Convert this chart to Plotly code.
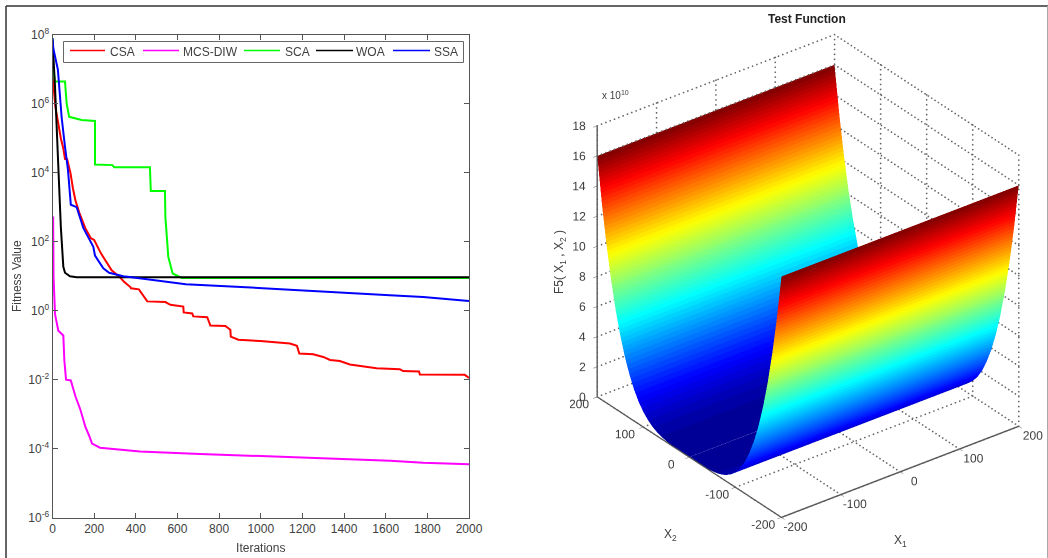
import numpy as np
import plotly.graph_objects as go

# ---- convergence curves: iteration and log10(fitness)
CSA_ITER = [0, 1, 8, 14, 25, 40, 52, 60, 70, 86, 98, 110, 128, 157, 184, 200, 232, 269, 284, 324, 345, 375, 377, 415, 455, 542, 566, 628, 630, 671, 676, 743, 758, 830, 854, 856, 892, 998, 1084, 1140, 1174, 1185, 1252, 1300, 1333, 1380, 1428, 1492, 1556, 1668, 1684, 1760, 1764, 1980, 1996, 2000]
CSA_LOG = [6.8, 6.7, 6.3, 5.9, 5.5, 5.0, 4.7, 4.4, 4.4, 4.0, 3.55, 3.2, 2.85, 2.4, 2.1, 2.05, 1.67, 1.3, 1.17, 0.97, 0.83, 0.68, 0.65, 0.62, 0.27, 0.25, 0.17, 0.12, -0.05, -0.08, -0.165, -0.19, -0.43, -0.44, -0.55, -0.75, -0.84, -0.88, -0.93, -0.95, -1.02, -1.24, -1.26, -1.34, -1.43, -1.46, -1.56, -1.61, -1.67, -1.7, -1.75, -1.76, -1.85, -1.86, -1.95, -1.95]
MCS_ITER = [0, 3, 5, 8, 12, 28, 52, 57, 65, 88, 110, 134, 158, 175, 190, 228, 276, 420, 708, 996, 1140, 1300, 1500, 1620, 1780, 2000]
MCS_LOG = [2.7, 2.7, 1.0, 0.3, -0.1, -0.58, -0.72, -1.45, -2.0, -2.02, -2.48, -2.87, -3.37, -3.61, -3.85, -3.97, -4.0, -4.08, -4.15, -4.21, -4.24, -4.28, -4.32, -4.35, -4.41, -4.45]
SCA_ITER = [0, 4, 12, 60, 68, 80, 140, 204, 204, 288, 296, 468, 472, 540, 542, 552, 556, 577, 596, 620, 2000]
SCA_LOG = [7.9, 7.0, 6.64, 6.64, 6.0, 5.62, 5.53, 5.5, 4.24, 4.22, 4.16, 4.16, 3.47, 3.47, 2.72, 2.05, 1.56, 1.08, 1.03, 0.95, 0.95]
WOA_ITER = [0, 12, 28, 40, 52, 60, 84, 116, 150, 2000]
WOA_LOG = [7.85, 6.5, 4.17, 2.43, 1.27, 1.1, 1.0, 0.97, 0.97, 0.97]
SSA_ITER = [0, 4, 26, 44, 60, 74, 88, 116, 148, 196, 204, 244, 272, 304, 340, 380, 430, 508, 640, 1140, 1300, 1460, 1620, 1780, 1892, 2000]
SSA_LOG = [7.9, 7.6, 6.98, 5.6, 4.75, 4.1, 3.07, 3.0, 2.4, 1.85, 1.6, 1.23, 1.1, 1.05, 1.0, 0.97, 0.93, 0.88, 0.77, 0.61, 0.55, 0.5, 0.45, 0.4, 0.33, 0.28]

SERIES = [("CSA", CSA_ITER, CSA_LOG, "#ff0000"),
          ("MCS-DIW", MCS_ITER, MCS_LOG, "#ff00ff"),
          ("SCA", SCA_ITER, SCA_LOG, "#00ff00"),
          ("WOA", WOA_ITER, WOA_LOG, "#000000"),
          ("SSA", SSA_ITER, SSA_LOG, "#0000ff")]

X_TICKS = [0, 200, 400, 600, 800, 1000, 1200, 1400, 1600, 1800, 2000]
Y_EXPONENTS = [-6, -4, -2, 0, 2, 4, 6, 8]

# ---- test-function surface
X1_VALUES = [-200, -100, 0, 100, 200]
X2_VALUES = [-200, -190, -180, -170, -160, -150, -140, -130, -120, -110, -100,
             -90, -80, -70, -60, -50, -40, -30, -20, -10, 0,
             10, 20, 30, 40, 50, 60, 70, 80, 90, 100,
             110, 120, 130, 140, 150, 160, 170, 180, 190, 200]
F5_PROFILE = [1.6e11, 1.303e11, 1.05e11, 8.35e10, 6.55e10, 5.06e10, 3.84e10, 2.86e10, 2.07e10, 1.46e10, 1.0e10,
              6.56e9, 4.1e9, 2.4e9, 1.3e9, 6.25e8, 2.56e8, 8.1e7, 1.6e7, 1.0e6, 0.0,
              1.0e6, 1.6e7, 8.1e7, 2.56e8, 6.25e8, 1.3e9, 2.4e9, 4.1e9, 6.56e9, 1.0e10,
              1.46e10, 2.07e10, 2.86e10, 3.84e10, 5.06e10, 6.55e10, 8.35e10, 1.05e11, 1.303e11, 1.6e11]
Z_TICKS = [0, 2e10, 4e10, 6e10, 8e10, 1e11, 1.2e11, 1.4e11, 1.6e11, 1.8e11]
Z_LABELS = ["0", "2", "4", "6", "8", "10", "12", "14", "16", "18"]
XY_TICKS = [-200, -100, 0, 100, 200]
XY_LABELS = ["-200", "-100", "0", "100", "200"]

# legend key layout in page pixels: line start, line end, label start
LEGEND_KEYS = [(70, 105, 108), (143, 179, 181), (244, 280, 283), (316, 353, 354), (393, 430, 432)]

W, H = 1048, 558
TXT = "#404040"
FONT = "Liberation Sans"


def jet_scale(n=64):
    anchors = [(0, (0, 0, 143)), (0.11, (0, 0, 255)), (0.365, (0, 255, 255)),
               (0.625, (255, 255, 0)), (0.875, (255, 0, 0)), (1, (127, 0, 0))]
    ps = [a[0] for a in anchors]
    out = []
    for i in range(n):
        t = (i + 0.5) / n
        c = [int(round(np.interp(t, ps, [a[1][k] for a in anchors]))) for k in range(3)]
        col = f"rgb({c[0]},{c[1]},{c[2]})"
        out += [[i / n, col], [(i + 1) / n, col]]
    return out


fig = go.Figure()
for name, it, lg, col in SERIES:
    fig.add_trace(go.Scatter(x=it, y=np.power(10.0, lg), mode="lines", name=name, showlegend=False,
                             line=dict(color=col, width=2)))

# dotted back-wall grid of the 3-D box, drawn as small markers along each grid line
ZTOP = Z_TICKS[-1]
gx, gy, gz = [], [], []
def dots(a, b, n=56, floor_skip=False):
    for t in np.linspace(0, 1, n):
        p = [a[k] + (b[k] - a[k]) * t for k in range(3)]
        if floor_skip and abs(p[1]) <= 60:
            continue
        gx.append(p[0]); gy.append(p[1]); gz.append(p[2])

for v in XY_TICKS:
    dots((v, -200, 0), (v, 200, 0), floor_skip=True)
    dots((-200, v, 0), (200, v, 0), floor_skip=True)
    dots((v, 200, 0), (v, 200, ZTOP)); dots((200, v, 0), (200, v, ZTOP))
for v in Z_TICKS[1:]:
    dots((-200, 200, v), (200, 200, v)); dots((200, -200, v), (200, 200, v))
fig.add_trace(go.Scatter3d(x=gx, y=gy, z=gz, mode="markers", showlegend=False, hoverinfo="skip",
                           marker=dict(color="#666666", size=1.0, line=dict(width=0))))

fig.add_trace(go.Surface(x=X1_VALUES, y=X2_VALUES, z=[[v] * len(X1_VALUES) for v in F5_PROFILE],
                         colorscale=jet_scale(), cmin=-1e9, cmax=1.6e11, showscale=False,
                         hoverinfo="skip",
                         lighting=dict(ambient=1, diffuse=0, specular=0, roughness=1, fresnel=0)))

# z tick labels sit to the left of the z axis
fig.add_trace(go.Scatter3d(x=[-200] * len(Z_TICKS), y=[200] * len(Z_TICKS), z=Z_TICKS, mode="text",
                           text=Z_LABELS, textposition="middle left", showlegend=False, hoverinfo="skip",
                           textfont=dict(family=FONT, size=12, color=TXT)))

ax3 = dict(showbackground=False, showgrid=False, zeroline=False, showspikes=False,
           showline=True, linecolor="#555555", linewidth=3, ticks="inside", ticklen=5,
           tickcolor="#555555", tickfont=dict(family=FONT, size=12, color=TXT), title=dict(text=""),
           tickangle=0, autorange=False)

def px(x, y):
    return dict(x=x / W, y=1 - y / H, xref="paper", yref="paper", showarrow=False,
                xanchor="center", yanchor="middle")

annotations = [
    dict(px(807, 19), text="<b>Test Function</b>", font=dict(size=12, color="#222222")),
    dict(px(615, 95), text="x 10<sup>10</sup>", font=dict(size=10, color=TXT)),
    dict(px(560, 262), text="F5( X<sub>1</sub> , X<sub>2</sub> )", textangle=-90, font=dict(size=12, color=TXT)),
    dict(px(900, 541), text="X<sub>1</sub>", font=dict(size=12, color=TXT)),
    dict(px(670, 535), text="X<sub>2</sub>", font=dict(size=12, color=TXT)),
]
shapes = [
    dict(type="line", xref="paper", yref="paper", x0=6 / W, x1=6 / W, y0=0, y1=1 - 6 / H,
         line=dict(color="#333333", width=1.5)),
    dict(type="line", xref="paper", yref="paper", x0=6 / W, x1=1, y0=1 - 6 / H, y1=1 - 6 / H,
         line=dict(color="#333333", width=1.5)),
    dict(type="line", xref="paper", yref="paper", x0=1047.5 / W, x1=1047.5 / W, y0=0, y1=1 - 6 / H,
         line=dict(color="#aaaaaa", width=1)),
    dict(type="rect", xref="paper", yref="paper", x0=63.5 / W, x1=463.5 / W, y0=1 - 62.5 / H, y1=1 - 41.5 / H,
         line=dict(color="#666666", width=1), fillcolor="white", layer="above"),
]
for (x0, x1, xt), (name, _, _, col) in zip(LEGEND_KEYS, SERIES):
    shapes.append(dict(type="line", xref="paper", yref="paper", x0=x0 / W, x1=x1 / W,
                       y0=1 - 50.5 / H, y1=1 - 50.5 / H, line=dict(color=col, width=1.5), layer="above"))
    annotations.append(dict(px(xt, 52), xanchor="left", text=name, font=dict(size=12, color=TXT)))

fig.update_layout(
    width=W, height=H, margin=dict(l=0, r=0, t=0, b=0, autoexpand=False),
    paper_bgcolor="white", plot_bgcolor="white",
    font=dict(family=FONT, size=12, color=TXT), showlegend=False,
    xaxis=dict(domain=[52.5 / W, 469 / W], range=[0, 2000], tickmode="array", tickvals=X_TICKS,
               ticks="inside", ticklen=5, tickcolor="#555555", showgrid=False, zeroline=False,
               showline=True, linecolor="#555555", linewidth=1, mirror="ticks",
               title=dict(text="Iterations", font=dict(size=12, color=TXT), standoff=8)),
    yaxis=dict(domain=[1 - 517.7 / H, 1 - 34.7 / H], type="log", range=[-6, 8], tickmode="array",
               tickvals=[10.0 ** e for e in Y_EXPONENTS],
               ticktext=[f"10<sup>{e}</sup>" for e in Y_EXPONENTS],
               ticks="inside", ticklen=5, tickcolor="#555555", showgrid=False, zeroline=False,
               showline=True, linecolor="#555555", linewidth=1, mirror="ticks",
               title=dict(text="Fitness Value", font=dict(size=12, color=TXT), standoff=4)),
    scene=dict(
        domain=dict(x=[570 / W, 1046 / W], y=[1 - 536 / H, 1 - 16 / H]),
        aspectmode="manual", aspectratio=dict(x=1.15, y=1.165, z=1.205),
        camera=dict(projection=dict(type="orthographic"), up=dict(x=0, y=0, z=1),
                    center=dict(x=0, y=0, z=0), eye=dict(x=-0.76, y=-0.992, z=0.724)),
        xaxis=dict(ax3, range=[-200, 200], tickmode="array", tickvals=XY_TICKS, ticktext=XY_LABELS),
        yaxis=dict(ax3, range=[-200, 200], tickmode="array", tickvals=XY_TICKS, ticktext=XY_LABELS),
        zaxis=dict(ax3, range=[0, ZTOP], tickmode="array", tickvals=Z_TICKS, showticklabels=False),
    ),
    annotations=annotations,
    shapes=shapes,
)

fig.write_html("out.html", config={"displayModeBar": False},
               post_script="document.body.style.margin='0';document.body.style.overflow='hidden';")
